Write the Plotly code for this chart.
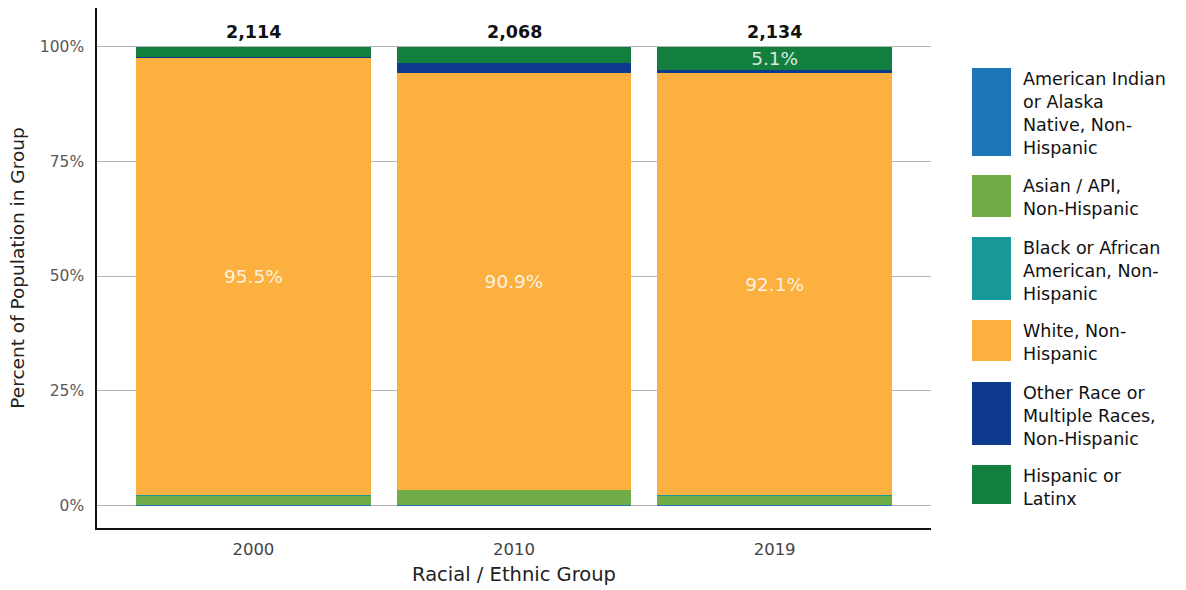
import plotly.graph_objects as go

years = ["2000", "2010", "2019"]
totals = [2114, 2068, 2134]
groups = [
    "American Indian or Alaska Native, Non-Hispanic",
    "Asian / API, Non-Hispanic",
    "Black or African American, Non-Hispanic",
    "White, Non-Hispanic",
    "Other Race or Multiple Races, Non-Hispanic",
    "Hispanic or Latinx",
]
legend_lines = [
    ["American Indian", "or Alaska", "Native, Non-", "Hispanic"],
    ["Asian / API,", "Non-Hispanic"],
    ["Black or African", "American, Non-", "Hispanic"],
    ["White, Non-", "Hispanic"],
    ["Other Race or", "Multiple Races,", "Non-Hispanic"],
    ["Hispanic or", "Latinx"],
]
aian = [0.1, 0.1, 0.1]
asian = [2.0, 3.2, 2.0]
black = [0.1, 0.1, 0.1]
white = [95.5, 90.9, 92.1]
other = [0.2, 2.3, 0.6]
hispanic = [2.1, 3.4, 5.1]
series = [aian, asian, black, white, other, hispanic]
colors = ["#1b75b7", "#6fac47", "#17999a", "#fbb040", "#0d3a8e", "#137f3f"]

FONT = "DejaVu Sans, Verdana, sans-serif"
W, H = 1186, 590
L, R, T, B = 97, 255, 8, 62
pw, ph = W - L - R, H - T - B

fig = go.Figure()
for name, vals, col in zip(groups, series, colors):
    txt = [f"{v:.1f}%" if v >= 5 else "" for v in vals]
    fig.add_trace(go.Bar(
        x=years, y=vals, name=name, marker=dict(color=col, line=dict(width=0)),
        text=txt, textposition="inside", insidetextanchor="middle",
        constraintext="none", cliponaxis=False,
        textfont=dict(color="rgba(255,255,255,0.85)", size=18.5, family=FONT),
        showlegend=False,
    ))

# totals above bars
for i, t in enumerate(totals):
    fig.add_annotation(x=i, y=100, xref="x", yref="y", text=f"<b>{t:,}</b>",
                       showarrow=False, yshift=15,
                       font=dict(size=17.5, color="#111111", family=FONT))

# custom legend (drawn in paper coordinates)
def xp(px):
    return (px - L) / pw
def yp(py):
    return (H - B - py) / ph
leg_boxes = [(68, 156), (175, 217), (237, 300), (320, 361), (382, 445), (465, 504)]
for (y0, y1), col, lines in zip(leg_boxes, colors, legend_lines):
    fig.add_shape(type="rect", xref="paper", yref="paper",
                  x0=xp(972), x1=xp(1011), y0=yp(y1), y1=yp(y0),
                  fillcolor=col, line=dict(width=0))
    for j, ln in enumerate(lines):
        fig.add_annotation(xref="paper", yref="paper", x=xp(1021),
                           y=yp(y0 + 11 + 23 * j), xanchor="left", yanchor="middle",
                           text=ln, showarrow=False,
                           font=dict(size=17.5, color="#111111", family=FONT))

fig.update_layout(
    width=W, height=H,
    barmode="stack", bargap=0.1,
    plot_bgcolor="white", paper_bgcolor="white",
    margin=dict(l=L, r=R, t=T, b=B),
    font=dict(family=FONT, size=16, color="#595959"),
    xaxis=dict(title=dict(text="Racial / Ethnic Group", font=dict(size=19.5, color="#222222"), standoff=10),
               showline=True, linecolor="#111111", linewidth=1.5, ticks="",
               tickfont=dict(size=16.5, color="#444444"), range=[-0.6, 2.6],
               ticklabelstandoff=5, automargin=False),
    yaxis=dict(title=dict(text="Percent of Population in Group", font=dict(size=18.5, color="#222222"), standoff=10),
               range=[-5.0, 108.5], tickvals=[0, 25, 50, 75, 100],
               ticktext=["0%", "25%", "50%", "75%", "100%"],
               showline=True, linecolor="#111111", linewidth=1.5,
               showgrid=True, gridcolor="#b4b4b4", gridwidth=1, zeroline=False,
               tickfont=dict(size=15.5, color="#595959"), ticks="", ticklabelstandoff=8,
               automargin=False),
)

fig.write_html("out.html", config={"displayModeBar": False},
               post_script="document.body.style.margin='0';document.body.style.overflow='hidden';")
